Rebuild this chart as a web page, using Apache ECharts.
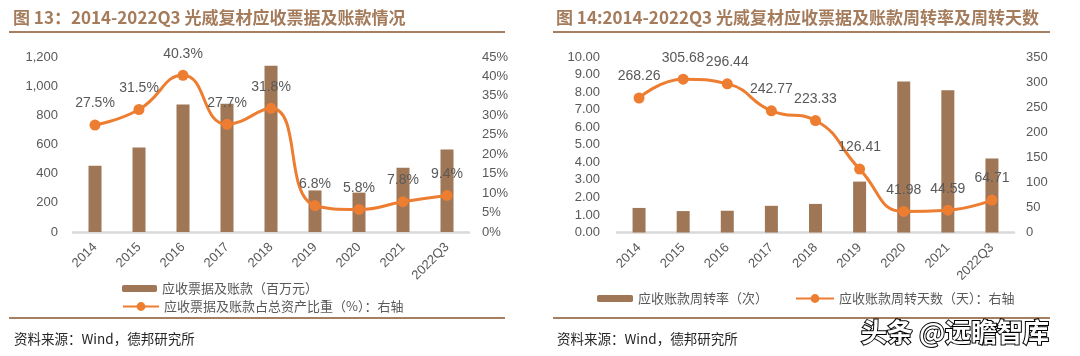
<!DOCTYPE html>
<html>
<head>
<meta charset="utf-8">
<script src="https://cdn.jsdelivr.net/npm/echarts@6/dist/echarts.min.js"></script>
<style>
html,body{margin:0;padding:0;background:#fff;}
#c{width:1080px;height:356px;}
</style>
</head>
<body>
<div id="c"></div>
<script>
const categories = ['2014','2015','2016','2017','2018','2019','2020','2021','2022Q3'];
// Chart 13
const receivables = [455, 580, 875, 880, 1140, 285, 270, 440, 565];           // 百万元
const receivableShare = [27.5, 31.5, 40.3, 27.7, 31.8, 6.8, 5.8, 7.8, 9.4];    // %
const receivablesTicks = [0, 200, 400, 600, 800, 1000, 1200];
const shareTicks = [0, 5, 10, 15, 20, 25, 30, 35, 40, 45];
// Chart 14
const turnoverRate = [1.40, 1.22, 1.24, 1.52, 1.63, 2.90, 8.60, 8.10, 4.22];   // 次
const turnoverDays = [268.26, 305.68, 296.44, 242.77, 223.33, 126.41, 41.98, 44.59, 64.71]; // 天
const rateTicks = [0, 1, 2, 3, 4, 5, 6, 7, 8, 9, 10];
const daysTicks = [0, 50, 100, 150, 200, 250, 300, 350];

const title13 = '图 13：2014-2022Q3 光威复材应收票据及账款情况';
const title14 = '图 14:2014-2022Q3 光威复材应收票据及账款周转率及周转天数';
const source = '资料来源：Wind，德邦研究所';
const s1 = '应收票据及账款（百万元）';
const s2 = '应收票据及账款占总资产比重（%）：右轴';
const s3 = '应收账款周转率（次）';
const s4 = '应收账款周转天数（天）：右轴';

const BROWN = '#9f7757';
const ORANGE = '#ed7d31';
const GRAY = '#595959';
const LAT = 'Liberation Sans, Arial, sans-serif';
const CJK = 'Noto Sans CJK SC, sans-serif';

function axisRange(t){ return {min: t[0], max: t[t.length-1], interval: t[1]-t[0]}; }

const chart = echarts.init(document.getElementById('c'));
const xCommon = {
  type: 'category', data: categories, boundaryGap: true,
  axisTick: {show: false},
  axisLine: {lineStyle: {color: '#d9d9d9', width: 2.5}},
  axisLabel: {rotate: 45, color: GRAY, fontSize: 13, fontFamily: LAT, margin: 13}
};
function yCommon(t, pos, fmt, margin){
  return Object.assign({type: 'value', position: pos,
    axisLine: {show: false}, axisTick: {show: false}, splitLine: {show: false},
    axisLabel: {color: GRAY, fontSize: 13, fontFamily: LAT, formatter: fmt, margin: margin}
  }, axisRange(t));
}
const legendText = {color: GRAY, fontSize: 13, fontFamily: CJK};

chart.setOption({
  animation: false,
  textStyle: {fontFamily: LAT},
  title: [
    {text: title13, left: 8, top: 4, textStyle: {color: '#a47c5c', fontSize: 17, fontWeight: 'bold', fontFamily: CJK}},
    {text: title14, left: 551, top: 4, textStyle: {color: '#a47c5c', fontSize: 17, fontWeight: 'bold', fontFamily: CJK}},
    {text: source, left: 9, top: 327, textStyle: {color: '#262626', fontSize: 13.5, fontWeight: 'normal', fontFamily: CJK}},
    {text: source, left: 552, top: 327, textStyle: {color: '#262626', fontSize: 13.5, fontWeight: 'normal', fontFamily: CJK}}
  ],
  graphic: [
    {type: 'rect', shape: {x: 9, y: 31, width: 496, height: 2}, style: {fill: '#a67f60'}},
    {type: 'rect', shape: {x: 553, y: 31, width: 497, height: 2}, style: {fill: '#a67f60'}},
    {type: 'rect', shape: {x: 9, y: 317, width: 496, height: 2}, style: {fill: '#a67f60'}},
    {type: 'rect', shape: {x: 553, y: 317, width: 497, height: 2}, style: {fill: '#a67f60'}},
    {type: 'text', left: 860, top: 318, z: 100,
      style: {text: '头条 @远瞻智库', fill: '#fff', stroke: '#000', lineWidth: 2,
        font: 'bold 26px Noto Sans CJK SC, sans-serif'}}
  ],
  legend: [
    {data: [s1], left: 117, top: 277, itemWidth: 35, itemHeight: 7, itemGap: 5, textStyle: legendText, selectedMode: false},
    {data: [s2], left: 117, top: 295, itemWidth: 36, itemHeight: 11, itemGap: 5, textStyle: legendText, selectedMode: false},
    {data: [s3], left: 592, top: 287, itemWidth: 36, itemHeight: 7, itemGap: 5, textStyle: legendText, selectedMode: false},
    {data: [s4], left: 790, top: 287, itemWidth: 38, itemHeight: 11, itemGap: 5, textStyle: legendText, selectedMode: false}
  ],
  grid: [
    {left: 73, right: 611, top: 57, height: 175},
    {left: 617, right: 66, top: 57, height: 175.5}
  ],
  xAxis: [
    Object.assign({gridIndex: 0}, xCommon),
    Object.assign({gridIndex: 1}, xCommon)
  ],
  yAxis: [
    Object.assign({gridIndex: 0}, yCommon(receivablesTicks, 'left', v => v.toLocaleString('en-US'), 15)),
    Object.assign({gridIndex: 0}, yCommon(shareTicks, 'right', v => v + '%', 13)),
    Object.assign({gridIndex: 1}, yCommon(rateTicks, 'left', v => v.toFixed(2), 17)),
    Object.assign({gridIndex: 1}, yCommon(daysTicks, 'right', v => String(v), 12))
  ],
  series: [
    {name: s1, type: 'bar', xAxisIndex: 0, yAxisIndex: 0, data: receivables, barWidth: 13,
      itemStyle: {color: BROWN}},
    {name: s2, type: 'line', xAxisIndex: 0, yAxisIndex: 1, data: receivableShare, smooth: 0.5,
      symbol: 'circle', symbolSize: 11, z: 5,
      lineStyle: {color: ORANGE, width: 3}, itemStyle: {color: ORANGE},
      label: {show: true, position: 'top', distance: 9, color: GRAY, fontSize: 14, fontFamily: LAT,
        formatter: p => p.value.toFixed(1) + '%'}},
    {name: s3, type: 'bar', xAxisIndex: 1, yAxisIndex: 2, data: turnoverRate, barWidth: 13,
      itemStyle: {color: BROWN}},
    {name: s4, type: 'line', xAxisIndex: 1, yAxisIndex: 3, data: turnoverDays, smooth: 0.5,
      symbol: 'circle', symbolSize: 11, z: 5,
      lineStyle: {color: ORANGE, width: 3}, itemStyle: {color: ORANGE},
      label: {show: true, position: 'top', distance: 9, color: GRAY, fontSize: 14, fontFamily: LAT,
        formatter: p => p.value.toFixed(2)}}
  ]
});
</script>
</body>
</html>
